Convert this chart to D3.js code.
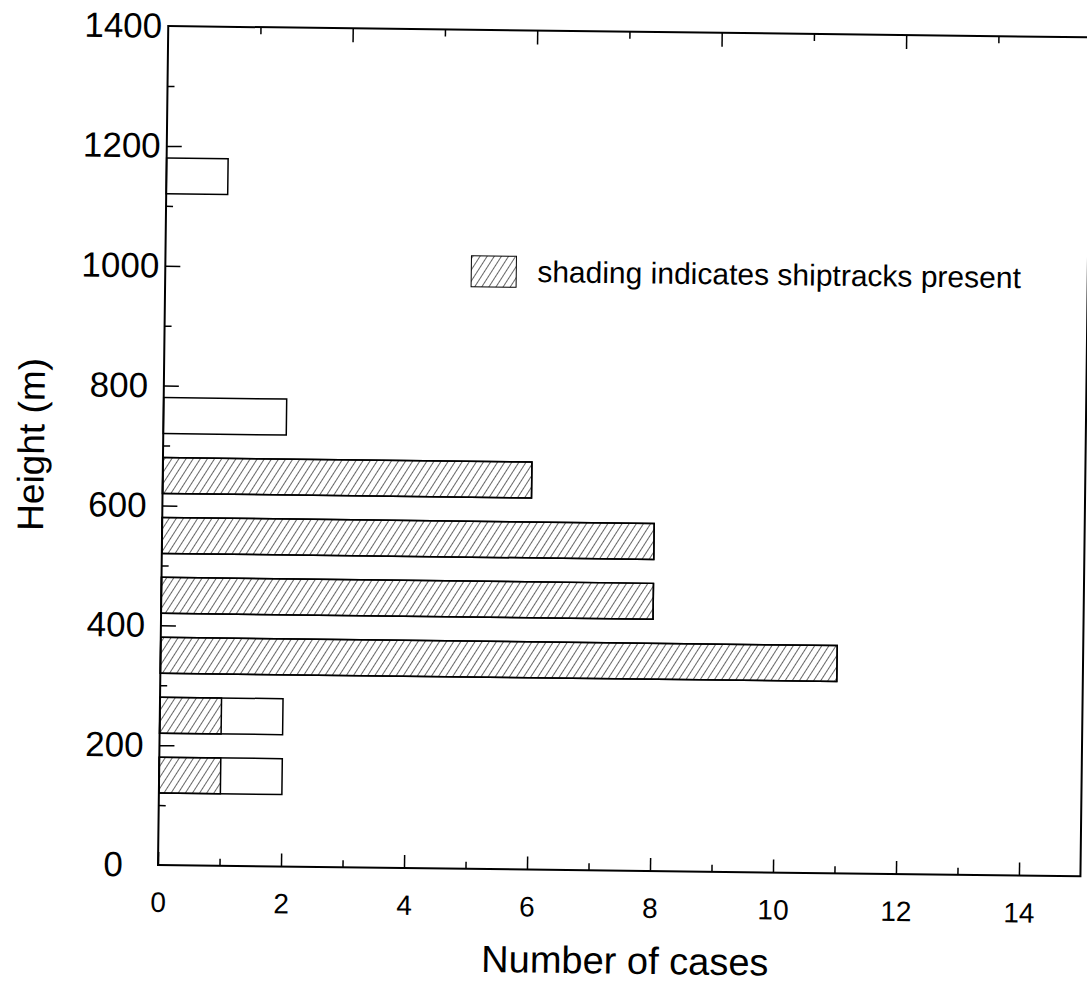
<!DOCTYPE html>
<html>
<head>
<meta charset="utf-8">
<script src="https://d3js.org/d3.v7.min.js"></script>
<style>
  body { margin: 0; background: #fff; }
  svg { display: block; font-family: "Liberation Sans", Arial, Helvetica, sans-serif; }
  .axis path { display: none; }
  .axis line { stroke: #000; stroke-width: 1.5; }
</style>
</head>
<body>
<svg id="chart" width="1087" height="990"></svg>
<script>
// Height bins (centre of each bar, m) and number of cases in each
const heightBins = [150, 250, 350, 450, 550, 650, 750, 1150];
const totalCases = [2, 2, 11, 8, 8, 6, 2, 1];
const shipCases  = [1, 1, 11, 8, 8, 6, 0, 0];   // shaded part: shiptracks present
const binSpan = 60;                              // each bar covers centre +/- 30 m

// Tick values
const xMajor = [0, 2, 4, 6, 8, 10, 12, 14];
const xMinor = [1, 3, 5, 7, 9, 11, 13];
const yMajor = [0, 200, 400, 600, 800, 1000, 1200, 1400];
const yMinor = [100, 300, 500, 700, 900, 1100, 1300];
const topMajor = [2, 4, 6, 8];
const topMinor = [1, 3, 5, 7, 9];

const bars = heightBins.map((h, i) => ({ h, total: totalCases[i], ship: shipCases[i] }));

const svg = d3.select("#chart");

// hatch pattern "/"
svg.append("defs")
  .append("pattern")
  .attr("id", "hatch")
  .attr("patternUnits", "userSpaceOnUse")
  .attr("width", 6)
  .attr("height", 6)
  .attr("patternTransform", "rotate(32)")
  .append("line")
  .attr("x1", 0).attr("y1", 0)
  .attr("x2", 0).attr("y2", 6)
  .attr("stroke", "#000")
  .attr("stroke-width", 1.2);

// the scanned figure sits slightly rotated on the page
const g = svg.append("g").attr("transform", "rotate(0.7, 158, 865)");

const x = d3.scaleLinear().domain([0, 15]).range([158, 1080.5]);
const xTop = d3.scaleLinear().domain([0, 10]).range([158, 1080.5]);
const y = d3.scaleLinear().domain([0, 1400]).range([865, 26]);

// Bars: outline of total, hatched part for shiptrack cases
g.selectAll("rect.total")
  .data(bars)
  .join("rect")
  .attr("class", "total")
  .attr("x", x(0))
  .attr("y", d => y(d.h + binSpan / 2))
  .attr("width", d => x(d.total) - x(0))
  .attr("height", d => y(d.h - binSpan / 2) - y(d.h + binSpan / 2))
  .attr("fill", "#fff")
  .attr("stroke", "#000")
  .attr("stroke-width", 1.5);

g.selectAll("rect.ship")
  .data(bars.filter(d => d.ship > 0))
  .join("rect")
  .attr("class", "ship")
  .attr("x", x(0))
  .attr("y", d => y(d.h + binSpan / 2))
  .attr("width", d => x(d.ship) - x(0))
  .attr("height", d => y(d.h - binSpan / 2) - y(d.h + binSpan / 2))
  .attr("fill", "url(#hatch)")
  .attr("stroke", "#000")
  .attr("stroke-width", 1.5);

// Bottom axis (ticks pointing in)
g.append("g")
  .attr("class", "axis")
  .attr("transform", `translate(0,${y(0)})`)
  .call(d3.axisBottom(x).tickValues(xMajor).tickSize(-13).tickPadding(27).tickFormat(d3.format("d")))
  .call(a => a.selectAll("text").attr("font-size", 28).attr("fill", "#000").attr("font-family", null));

g.append("g")
  .attr("class", "axis")
  .attr("transform", `translate(0,${y(0)})`)
  .call(d3.axisBottom(x).tickValues(xMinor).tickSize(-7).tickFormat(""));

// Left axis
g.append("g")
  .attr("class", "axis")
  .attr("transform", `translate(${x(0)},0)`)
  .call(d3.axisLeft(y).tickValues(yMajor).tickSize(-15).tickFormat(d3.format("d")))
  .call(a => a.selectAll("text")
    .attr("font-size", 35).attr("fill", "#000").attr("font-family", null)
    .attr("text-anchor", "middle").attr("x", -45))
  .call(a => a.selectAll(".tick").filter(d => d === 0 || d === 1400).select("line").remove());

g.append("g")
  .attr("class", "axis")
  .attr("transform", `translate(${x(0)},0)`)
  .call(d3.axisLeft(y).tickValues(yMinor).tickSize(-7).tickFormat(""));

// Top axis, own tick spacing as in the original
g.append("g")
  .attr("class", "axis")
  .attr("transform", `translate(0,${y(1400)})`)
  .call(d3.axisTop(xTop).tickValues(topMajor).tickSize(-14).tickFormat(""));

g.append("g")
  .attr("class", "axis")
  .attr("transform", `translate(0,${y(1400)})`)
  .call(d3.axisTop(xTop).tickValues(topMinor).tickSize(-7).tickFormat(""));

// Frame
g.append("rect")
  .attr("x", x(0))
  .attr("y", y(1400))
  .attr("width", x(15) - x(0))
  .attr("height", y(0) - y(1400))
  .attr("fill", "none")
  .attr("stroke", "#000")
  .attr("stroke-width", 2);

// Legend
g.append("rect")
  .attr("x", 464).attr("y", 252)
  .attr("width", 45).attr("height", 31)
  .attr("fill", "url(#hatch)")
  .attr("stroke", "#000")
  .attr("stroke-width", 1);

g.append("text")
  .attr("x", 530).attr("y", 267)
  .attr("dy", "0.35em")
  .attr("font-size", 30)
  .text("shading indicates shiptracks present");

// Axis titles
g.append("text")
  .attr("x", 626).attr("y", 968)
  .attr("text-anchor", "middle")
  .attr("font-size", 38)
  .text("Number of cases");

g.append("text")
  .attr("transform", "translate(26,446) rotate(-90)")
  .attr("text-anchor", "middle")
  .attr("dy", "0.35em")
  .attr("font-size", 37)
  .text("Height (m)");
</script>
</body>
</html>
